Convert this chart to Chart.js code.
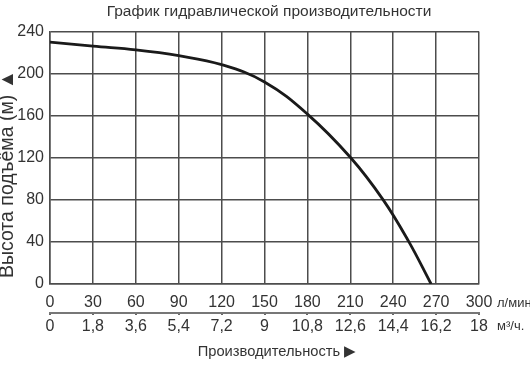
<!DOCTYPE html>
<html>
<head>
<meta charset="utf-8">
<script src="https://cdn.jsdelivr.net/npm/chart.js@4"></script>
<style>
    html, body { margin: 0; padding: 0; background: #fff; }
    #wrap { width: 530px; height: 365px; }
</style>
</head>
<body>
<div id="wrap"><canvas id="grafico"></canvas></div>
<script>
// расход, л/мин и напор, м
var rashod = [0, 30, 60, 90, 120, 150, 180, 210, 233, 251, 266.5];
var napor = [230, 226, 222.5, 217, 208.5, 192, 161.5, 120.5, 80, 40, 0];
// подписи второй шкалы, м3/ч
var m3Labels = ['0', '1,8', '3,6', '5,4', '7,2', '9', '10,8', '12,6', '14,4', '16,2', '18'];
var yTicks = [0, 40, 80, 120, 160, 200, 240];

var fuente = "'Liberation Sans', Arial, sans-serif";
var gridColor = '#4d4d4d';

var puntos = rashod.map(function (x, i) { return { x: x, y: napor[i] }; });

// заголовок, подписи осей и единицы
var textos = {
    id: 'textos',
    afterDraw: function (chart) {
        var ctx = chart.ctx;
        ctx.save();
        ctx.fillStyle = '#333';
        ctx.textBaseline = 'middle';

        ctx.font = "15.5px " + fuente;
        ctx.textAlign = 'center';
        ctx.fillText('График гидравлической производительности', 269, 12);

        ctx.font = "13px " + fuente;
        ctx.textAlign = 'left';
        ctx.fillText('л/мин', 497, chart.scales.x.top + 19);
        ctx.fillText('м³/ч.', 497, chart.scales.x2.top + 13);

        ctx.font = "14.7px " + fuente;
        ctx.textAlign = 'center';
        ctx.fillText('Производительность ▶', 277, 352);

        ctx.font = "19.5px " + fuente;
        ctx.translate(8, 174);
        ctx.rotate(-Math.PI / 2);
        ctx.fillText('Высота подъёма (м) ▲', 0, 0);
        ctx.restore();
    }
};

var chart = new Chart(document.getElementById('grafico'), {
    type: 'line',
    data: {
        datasets: [{
            data: puntos,
            borderColor: '#1a1a1a',
            borderWidth: 2.8,
            pointRadius: 0,
            fill: false,
            tension: 0.4
        }]
    },
    options: {
        responsive: true,
        maintainAspectRatio: false,
        animation: false,
        layout: { padding: { left: 0, right: 51, top: 31.5, bottom: 27 } },
        plugins: {
            legend: { display: false },
            tooltip: { enabled: false },
            title: { display: false }
        },
        scales: {
            x: {
                type: 'linear',
                position: 'bottom',
                weight: 0,
                min: 0,
                max: 300,
                afterFit: function (s) { s.height = 29; },
                ticks: {
                    stepSize: 30,
                    padding: 9,
                    maxRotation: 0,
                    color: '#333',
                    font: { family: fuente, size: 16 }
                },
                grid: { color: gridColor, lineWidth: 1.5, drawTicks: false },
                border: { color: gridColor, width: 1.5 }
            },
            x2: {
                type: 'linear',
                position: 'bottom',
                weight: 1,
                min: 0,
                max: 300,
                afterFit: function (s) { s.height = 25; },
                ticks: {
                    stepSize: 30,
                    padding: 1.5,
                    maxRotation: 0,
                    color: '#333',
                    font: { family: fuente, size: 16 },
                    callback: function (v) { return m3Labels[Math.round(v / 30)]; }
                },
                grid: { drawOnChartArea: false, color: '#666', lineWidth: 2, tickLength: 2 },
                border: { color: '#777', width: 2 }
            },
            y: {
                min: 0,
                max: 240,
                afterFit: function (s) { s.width = 50; },
                afterBuildTicks: function (s) { s.ticks = yTicks.map(function (v) { return { value: v }; }); },
                ticks: {
                    padding: 6,
                    color: '#333',
                    font: { family: fuente, size: 16 }
                },
                grid: { color: gridColor, lineWidth: 1.5, drawTicks: false },
                border: { color: gridColor, width: 1.5 }
            }
        }
    },
    plugins: [textos]
});
</script>
</body>
</html>
